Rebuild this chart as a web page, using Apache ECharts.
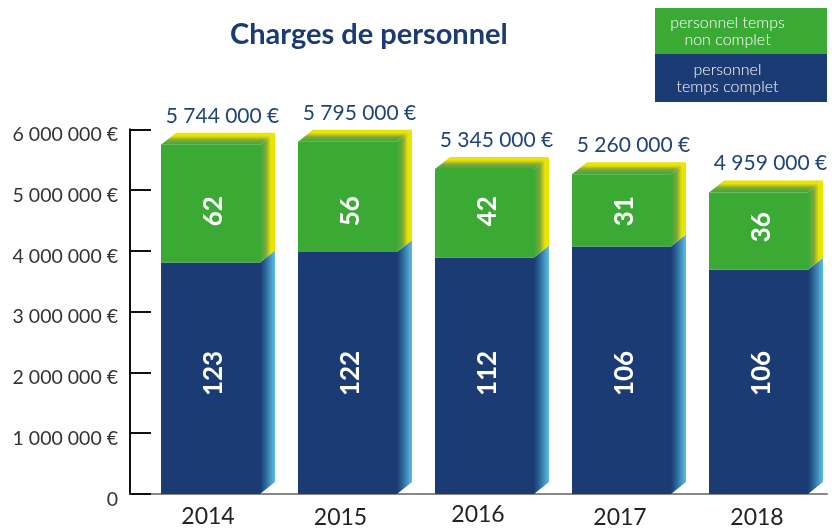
<!DOCTYPE html>
<html>
<head>
<meta charset="utf-8">
<style>
  html, body { margin:0; padding:0; background:#fff; }
  #chart { width:832px; height:529px; }
</style>
<script src="https://cdn.jsdelivr.net/npm/echarts@6/dist/echarts.min.js"></script>
</head>
<body>
<div id="chart"></div>
<script>
// donnees
const years = ['2014', '2015', '2016', '2017', '2018'];
const totals = [5744000, 5795000, 5345000, 5260000, 4959000];
const tempsComplet = [3810000, 3980000, 3890000, 4070000, 3690000];
const effectifComplet = [123, 122, 112, 106, 106];
const effectifNonComplet = [62, 56, 42, 31, 36];
const yTicks = ['0', '1 000 000 €', '2 000 000 €', '3 000 000 €', '4 000 000 €', '5 000 000 €', '6 000 000 €'];
const legendLabels = ['personnel temps\nnon complet', 'personnel\ntemps complet'];

const GREEN = '#3aaa35';
const BLUE = '#1a3b73';
const FONT = 'Lato';
const { LinearGradient } = echarts.graphic;

// fausse 3D : decalage de la face arriere
const DX = 15;
const DY = 12;
const FRONT = 99;

function sideFill(from, mid, to, stopMid, stopEnd) {
  return new LinearGradient(0, 0, 1, 0, [
    { offset: 0, color: from },
    { offset: stopMid, color: mid },
    { offset: stopEnd, color: to },
    { offset: 1, color: to }
  ]);
}

function poly(points, fill) {
  return { type: 'polygon', shape: { points: points }, style: { fill: fill } };
}

function renderBar(params, api) {
  const i = api.value(0);
  const split = api.value(1);
  const total = api.value(2);
  const x = api.coord([i, 0])[0] - 49.5;
  const y0 = api.coord([i, 0])[1];
  const ySplit = api.coord([i, split])[1];
  const yTop = api.coord([i, total])[1];
  const xr = x + FRONT;

  // les chiffres sont poses a la main sur l'original, on s'en approche
  const yBlueLabel = api.coord([i, 2000000])[1] + 1;
  const yGreenLabel = Math.max(api.coord([i, 4670000])[1] + 1, (ySplit + yTop) / 2 - 4);

  const rotated = (text, y) => ({
    type: 'text',
    x: x + FRONT / 2 + 3,
    y: y,
    rotation: Math.PI / 2,
    style: {
      text: text,
      fill: '#fff',
      font: 'bold 26px ' + FONT,
      align: 'center',
      verticalAlign: 'middle'
    }
  });

  return {
    type: 'group',
    children: [
      // cote bleu
      poly([[xr, y0], [xr + DX, y0 - DY], [xr + DX, ySplit - DY], [xr, ySplit]],
        sideFill(BLUE, '#2a6496', '#5dbde9', 0.35, 1)),
      // cote vert
      poly([[xr, ySplit], [xr + DX, ySplit - DY], [xr + DX, yTop - DY], [xr, yTop]],
        sideFill(GREEN, '#7fa83a', '#ebe300', 0.4, 0.72)),
      // dessus
      poly([[x, yTop], [x + DX, yTop - DY], [xr + DX, yTop - DY], [xr, yTop]],
        new LinearGradient(0, 1, 0, 0, [
          { offset: 0, color: GREEN },
          { offset: 0.4, color: '#7fa83a' },
          { offset: 0.75, color: '#ebe300' },
          { offset: 1, color: '#ebe300' }
        ])),
      // faces avant
      { type: 'rect', shape: { x: x, y: ySplit, width: FRONT, height: y0 - ySplit }, style: { fill: BLUE } },
      { type: 'rect', shape: { x: x, y: yTop, width: FRONT, height: ySplit - yTop }, style: { fill: GREEN } },
      rotated(String(effectifComplet[i]), yBlueLabel),
      rotated(String(effectifNonComplet[i]), yGreenLabel),
      // total au dessus
      {
        type: 'text',
        x: x + FRONT / 2 + 12,
        y: yTop - DY - 17,
        style: {
          text: totals[i].toString().replace(/\B(?=(\d{3})+$)/g, ' ') + ' €',
          fill: '#1f4479',
          font: '21px ' + FONT,
          align: 'center',
          verticalAlign: 'middle'
        }
      }
    ]
  };
}

function legendBox(top, height, fill, text) {
  return [
    { type: 'rect', x: 655, y: top, shape: { width: 172, height: height }, style: { fill: fill } },
    {
      type: 'text',
      x: 727.5,
      y: top + height / 2 + 0.5,
      style: {
        text: text,
        fill: '#fff',
        font: '300 16px ' + FONT,
        lineHeight: 17,
        align: 'center',
        verticalAlign: 'middle'
      }
    }
  ];
}

const myChart = echarts.init(document.getElementById('chart'), null, { renderer: 'canvas' });
myChart.setOption({
  animation: false,
  title: {
    text: 'Charges de personnel',
    left: 225,
    top: 15,
    textStyle: { color: BLUE, fontFamily: FONT, fontWeight: 'bold', fontSize: 29 }
  },
  grid: { left: 142, right: 5, top: 129.3, bottom: 34 },
  xAxis: {
    type: 'category',
    data: years,
    axisLine: { lineStyle: { color: '#888', width: 2 } },
    axisTick: { inside: true, length: 10, lineStyle: { color: '#111', width: 1 } },
    axisLabel: {
      color: '#222',
      fontFamily: FONT,
      fontSize: 23,
      margin: 9,
      // les annees ne sont pas tout a fait centrees sur l'original
      formatter: function (v) { return '{y' + years.indexOf(v) + '|' + v + '}'; },
      rich: {
        y0: { padding: [2, 5, 0, 0] },
        y1: { padding: [3, 14, 0, 0] },
        y2: { padding: [0, 13, 0, 0] },
        y3: { padding: [3, 3, 0, 0] },
        y4: { padding: [3, 3, 0, 0] }
      }
    }
  },
  yAxis: {
    type: 'value',
    min: 0,
    max: 6000000,
    interval: 1000000,
    offset: 12,
    axisLine: { show: true, lineStyle: { color: '#111', width: 2 } },
    axisTick: { show: true, inside: true, length: 21, lineStyle: { color: '#111', width: 2 } },
    splitLine: { show: false },
    axisLabel: {
      color: '#333',
      fontFamily: FONT,
      fontSize: 19.5,
      margin: 12,
      // libelles un peu sous les graduations
      formatter: function (v) { return '{t|' + yTicks[v / 1000000] + '}'; },
      rich: {
        t: { padding: [11, 0, 0, 0] }
      }
    }
  },
  series: [{
    type: 'custom',
    renderItem: renderBar,
    clip: false,
    data: years.map((y, i) => [i, tempsComplet[i], totals[i]]),
    encode: { x: 0, y: 2 }
  }],
  graphic: [
    ...legendBox(8, 46, GREEN, legendLabels[0]),
    ...legendBox(54, 48, BLUE, legendLabels[1])
  ]
});
</script>
</body>
</html>
